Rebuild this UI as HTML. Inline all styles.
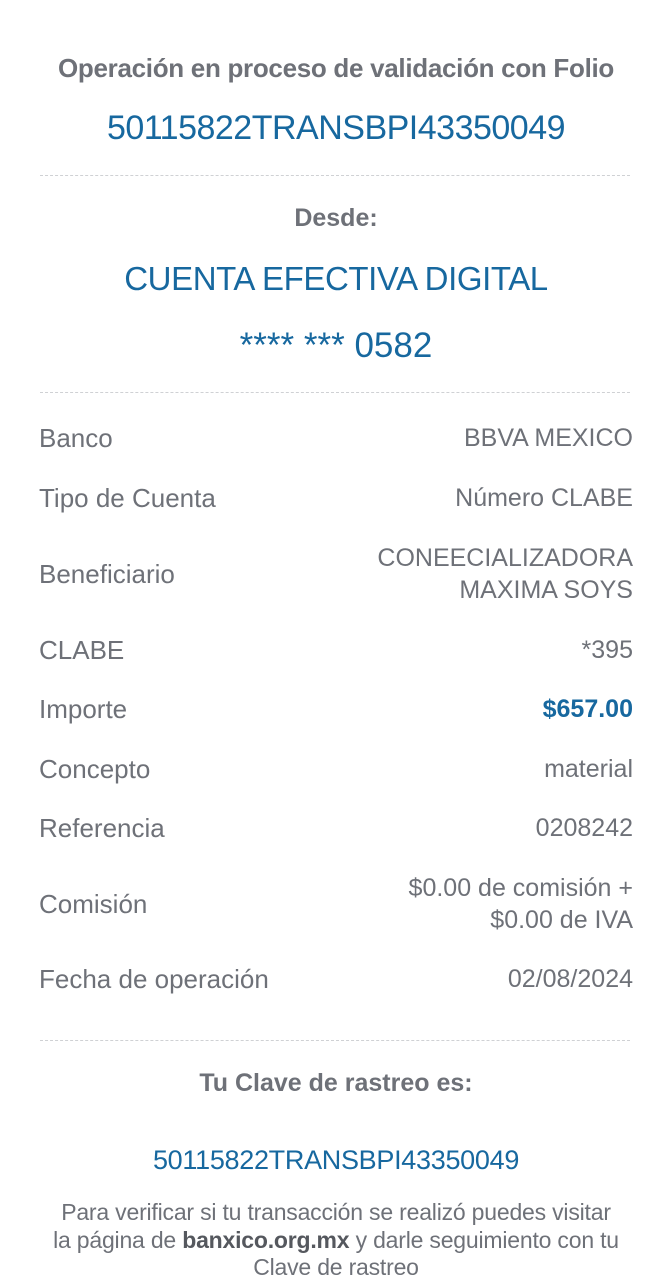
<!DOCTYPE html>
<html><head><meta charset="utf-8"><style>
body{margin:0;width:672px;height:1280px;background:#fff;position:relative;overflow:hidden;font-family:"Liberation Sans",Arial,sans-serif;color:#6e7178}
.a{position:absolute;line-height:40px;height:40px;white-space:nowrap}
.c{left:0;width:672px;text-align:center}
.l{left:39px;font-size:26px;letter-spacing:0}
.r{right:39px;font-size:25px;text-align:right;letter-spacing:0}
.b{color:#17689f}
.d{position:absolute;left:40px;width:590px;border-top:1.5px dashed #cfd1d4;height:0}
</style></head><body>
<div class="a c" style="top:48px;font-size:26px;font-weight:bold;letter-spacing:-0.3px">Operación en proceso de validación con Folio</div>
<div class="a c b" style="top:108px;font-size:34px;letter-spacing:-0.5px">50115822TRANSBPI43350049</div>
<div class="d" style="top:175px"></div>
<div class="a c" style="top:198px;font-size:25px;font-weight:bold">Desde:</div>
<div class="a c b" style="top:259px;font-size:33px;letter-spacing:-0.4px">CUENTA EFECTIVA DIGITAL</div>
<div class="a c b" style="top:326px;font-size:35px">**** *** 0582</div>
<div class="d" style="top:392px"></div>

<div class="a l" style="top:418px">Banco</div><div class="a r" style="top:418px">BBVA MEXICO</div>
<div class="a l" style="top:478px">Tipo de Cuenta</div><div class="a r" style="top:478px">Número CLABE</div>
<div class="a l" style="top:554px">Beneficiario</div>
<div class="a r" style="top:538px">CONEECIALIZADORA</div><div class="a r" style="top:570px">MAXIMA SOYS</div>
<div class="a l" style="top:630px">CLABE</div><div class="a r" style="top:630px">*395</div>
<div class="a l" style="top:689px">Importe</div><div class="a r b" style="top:689px;font-weight:bold">$657.00</div>
<div class="a l" style="top:749px">Concepto</div><div class="a r" style="top:749px">material</div>
<div class="a l" style="top:808px">Referencia</div><div class="a r" style="top:808px">0208242</div>
<div class="a l" style="top:884px">Comisión</div>
<div class="a r" style="top:868px">$0.00 de comisión +</div><div class="a r" style="top:900px">$0.00 de IVA</div>
<div class="a l" style="top:959px">Fecha de operación</div><div class="a r" style="top:959px">02/08/2024</div>

<div class="d" style="top:1040px"></div>
<div class="a c" style="top:1063px;font-size:25px;font-weight:bold">Tu Clave de rastreo es:</div>
<div class="a c b" style="top:1140px;font-size:27px;letter-spacing:-0.3px">50115822TRANSBPI43350049</div>
<div class="a c" style="top:1192px;font-size:23px;letter-spacing:-0.2px">Para verificar si tu transacción se realizó puedes visitar</div>
<div class="a c" style="top:1220px;font-size:23px;letter-spacing:-0.2px">la página de <b style="color:#55585e">banxico.org.mx</b> y darle seguimiento con tu</div>
<div class="a c" style="top:1247px;font-size:23px;letter-spacing:-0.2px">Clave de rastreo</div>
</body></html>
